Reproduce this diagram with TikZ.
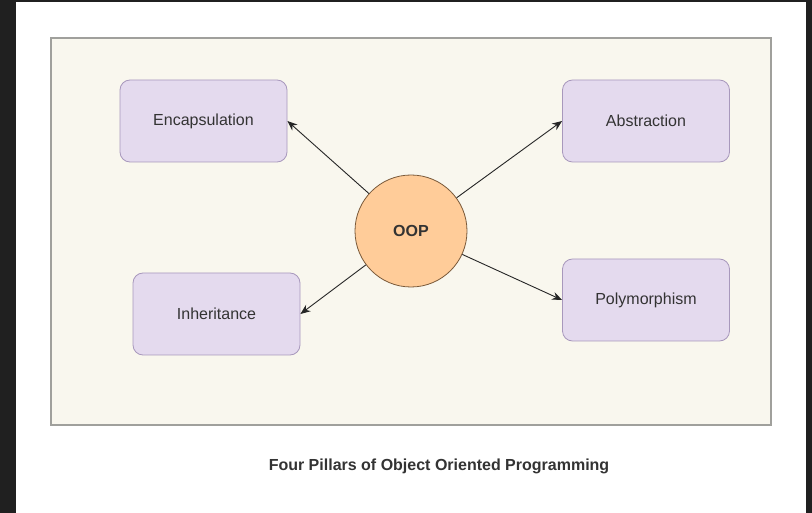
\documentclass[tikz,border=0pt]{standalone}
\usepackage{fontspec}
\setmainfont{Liberation Sans}
\usetikzlibrary{arrows.meta}
\definecolor{frame}{HTML}{202020}
\definecolor{panelfill}{HTML}{F9F7EE}
\definecolor{panelline}{HTML}{A0A09C}
\definecolor{boxfill}{HTML}{E4DAEE}
\definecolor{boxline}{HTML}{A898BC}
\definecolor{oopfill}{HTML}{FFCC99}
\definecolor{oopline}{HTML}{7A5A3A}
\definecolor{txt}{HTML}{333333}
\tikzset{
  pillar/.style={draw=boxline, fill=boxfill, rounded corners=10pt, minimum width=167pt, minimum height=82pt, text=txt, font=\fontsize{16}{18}\selectfont, line width=0.8pt},
  hub/.style={circle, draw=oopline, fill=oopfill, minimum size=112pt, inner sep=0pt, text=txt, font=\fontsize{16}{18}\selectfont\bfseries, line width=0.8pt},
  link/.style={-{Stealth[length=10pt,width=8pt]}, line width=0.9pt, draw=black!85}
}
\begin{document}
\begin{tikzpicture}[x=1pt,y=-1pt]
\fill[frame] (0,0) rectangle (812,513);
\fill[white] (16,2) rectangle (806,513);
\useasboundingbox (0,0) rectangle (812,513);
\draw[panelline, fill=panelfill, line width=1.6pt] (51,38) rectangle (771,425);
\node[pillar] (enc) at (203.5,121) {Encapsulation};
\node[pillar] (abs) at (646,121) {Abstraction};
\node[pillar] (inh) at (216.5,314) {Inheritance};
\node[pillar] (poly) at (646,300) {Polymorphism};
\node[hub] (oop) at (411,231) {OOP};
\draw[link] (oop) -- (enc.east);
\draw[link] (oop) -- (abs.west);
\draw[link] (oop) -- (inh.east);
\draw[link] (oop) -- (poly.west);
\node[text=txt, font=\fontsize{16}{18}\selectfont\bfseries] (cap) at (439,466) {Four Pillars of Object Oriented Programming};
\end{tikzpicture}
\end{document}
